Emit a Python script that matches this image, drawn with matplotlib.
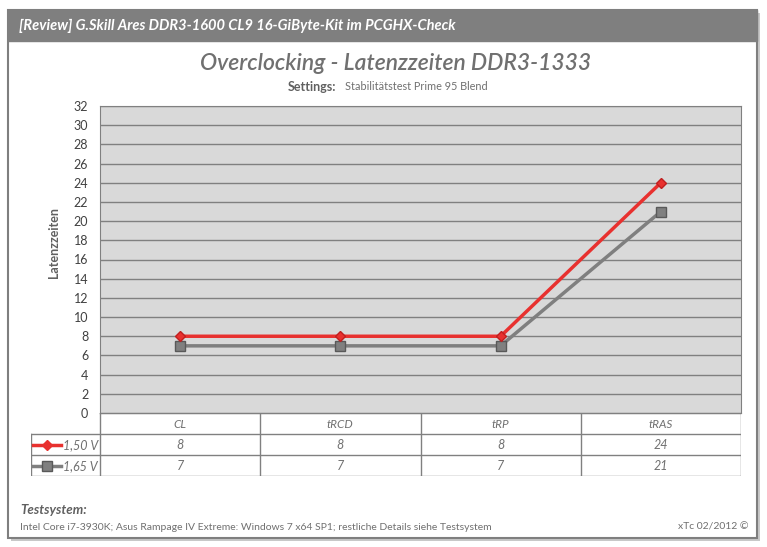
import matplotlib.pyplot as plt
import numpy as np
from matplotlib.patches import Rectangle
from matplotlib.lines import Line2D

plt.rcParams['font.family'] = ['Lato', 'DejaVu Sans']

categories = ['CL', 'tRCD', 'tRP', 'tRAS']
series_names = ['1,50 V', '1,65 V']
v150 = [8, 8, 8, 24]
v165 = [7, 7, 7, 21]
yticks = list(range(0, 33, 2))

W, H = 767, 547
fig = plt.figure(figsize=(W / 100, H / 100), dpi=100)
fig.patch.set_facecolor('white')


def fx(px):
    return px / W


def fy(py):
    return 1 - py / H


# outer frame with shadow
fig.patches.append(Rectangle((fx(11), fy(541)), fx(749), (538 - 10) / H, transform=fig.transFigure,
                             facecolor='#c8c8c8', edgecolor='none', zorder=0))
fig.patches.append(Rectangle((fx(8), fy(538)), fx(749), (538 - 10) / H, transform=fig.transFigure,
                             facecolor='white', edgecolor='#7f7f7f', lw=1.5, zorder=1))
fig.patches.append(Rectangle((fx(8), fy(41)), fx(749), 31 / H, transform=fig.transFigure,
                             facecolor='#7f7f7f', edgecolor='#7f7f7f', zorder=2))
fig.text(fx(19), fy(26), '[Review] G.Skill Ares DDR3-1600 CL9 16-GiByte-Kit im PCGHX-Check',
         color='white', fontsize=10.5, fontweight='bold', style='italic', va='center', zorder=3)

fig.text(fx(396), fy(63), 'Overclocking - Latenzzeiten DDR3-1333', color='#707070',
         fontsize=16.5, style='italic', fontweight='semibold', ha='center', va='center', zorder=3)
fig.text(fx(288), fy(87), 'Settings:', color='#606060', fontsize=9, fontweight='bold',
         ha='left', va='center', zorder=3)
fig.text(fx(345), fy(87), 'Stabilitätstest Prime 95 Blend', color='#707070', fontsize=7.8,
         ha='left', va='center', zorder=3)

# plot area
ax = fig.add_axes([fx(100), fy(413), fx(641), (413 - 106) / H])
ax.set_zorder(5)
ax.set_facecolor('#d9d9d9')
x = np.arange(len(categories))
for y in yticks:
    ax.axhline(y, color='#808080', lw=1, zorder=1)
ax.plot(x, v165, color='#7f7f7f', lw=2.5, marker='s', ms=6.5, mfc='#808080', mec='#595959',
        zorder=3)
ax.plot(x, v150, color='#e8312f', lw=2.5, marker='D', ms=5, mfc='#e8312f', mec='#c02020',
        zorder=4)
ax.set_xlim(-0.5, len(categories) - 0.5)
ax.set_ylim(0, 32)
ax.set_yticks(yticks)
ax.set_xticks([])
ax.tick_params(axis='y', length=0, labelsize=9, labelcolor='#404040', pad=8.5)
for s in ax.spines.values():
    s.set_color('#808080')
ax.set_ylabel('Latenzzeiten', color='#606060', fontsize=9, fontweight='bold', va='center')
ax.yaxis.set_label_coords(-0.071, 0.554)

# data table
tab = fig.add_axes([fx(31), fy(476), fx(710), 63 / H])
tab.set_zorder(5)
tab.set_xlim(31, 741)
tab.set_ylim(476, 413)
tab.axis('off')
lc = '#808080'
colw = 641 / len(categories)
rows = [413, 434, 455, 476]
tab.plot([100, 741], [413, 413], color=lc, lw=1)
for r in rows[1:]:
    tab.plot([31, 741], [r, r], color=lc, lw=1)
tab.plot([31, 31], [434, 476], color=lc, lw=1)
for i in range(len(categories) + 1):
    tab.plot([100 + i * colw] * 2, [413, 476], color=lc, lw=1)
for i, c in enumerate(categories):
    cx = 100 + (i + 0.5) * colw
    tab.text(cx, 424, c, ha='center', va='center', style='italic', fontsize=8.5, color='#707070')
    tab.text(cx, 445, str(v150[i]), ha='center', va='center', style='italic', fontsize=9,
             color='#707070')
    tab.text(cx, 466, str(v165[i]), ha='center', va='center', style='italic', fontsize=9,
             color='#707070')
tab.add_line(Line2D([33, 61], [445, 445], color='#e8312f', lw=2.5))
tab.plot([47], [445], marker='D', ms=5, color='#e8312f')
tab.add_line(Line2D([33, 61], [466, 466], color='#7f7f7f', lw=2.5))
tab.plot([47], [466], marker='s', ms=6.5, mfc='#808080', mec='#595959')
tab.text(98, 445, series_names[0], ha='right', va='center', style='italic', fontsize=9, color='#707070')
tab.text(98, 466, series_names[1], ha='right', va='center', style='italic', fontsize=9, color='#707070')

# footer
fig.text(fx(20), fy(510), 'Testsystem:', color='#606060', fontsize=9.5, fontweight='bold',
         style='italic', va='center', zorder=3)
fig.text(fx(20), fy(527), 'Intel Core i7-3930K; Asus Rampage IV Extreme: Windows 7 x64 SP1; restliche Details siehe Testsystem',
         color='#707070', fontsize=7.5, va='center', zorder=3)
fig.text(fx(748), fy(527), 'xTc 02/2012 ©', color='#707070', fontsize=7.5, va='center', ha='right',
         zorder=3)

fig.savefig('out.png', dpi=100)
